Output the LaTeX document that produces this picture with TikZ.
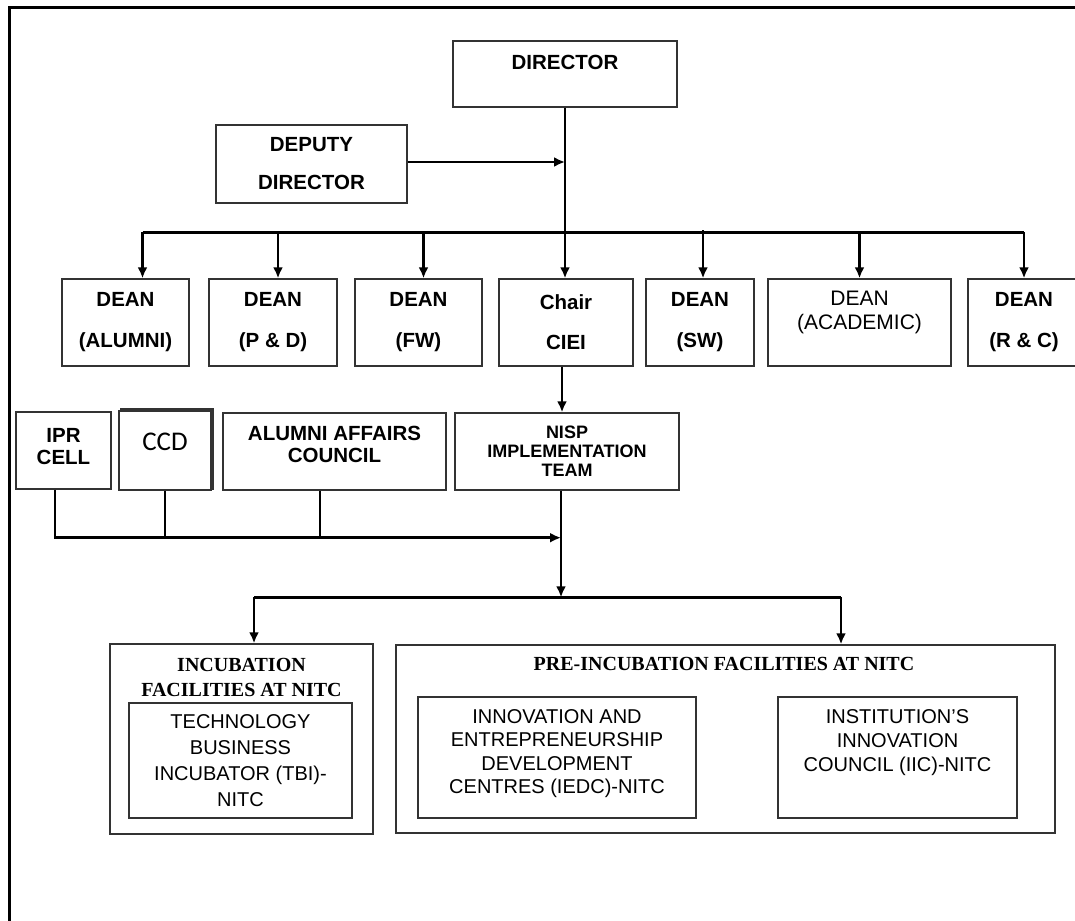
\documentclass[tikz,border=0pt]{standalone}
\usepackage{fontspec}
\setmainfont{Liberation Sans}
\newfontfamily\timesfont{Liberation Serif}
\newfontfamily\calibrifont{Carlito}
\usepackage{tikz}
\usetikzlibrary{arrows.meta}

\begin{document}
\begin{tikzpicture}[x=1pt,y=-1pt,
	box/.style={draw=black!80,line width=1.4pt,fill=white,align=center,inner sep=0pt},
	hd/.style={font=\bfseries\fontsize{20.5}{#1}\selectfont},
	rg/.style={font=\fontsize{20}{#1}\selectfont},
	ttl/.style={anchor=north,align=center,inner sep=0pt,font=\timesfont\bfseries\fontsize{20}{25}\selectfont},
	link/.style={line width=2.5pt},
	arr/.style={link,-{Latex[length=11pt,width=10pt]}}
	]
\useasboundingbox (0,0) rectangle (1075,920);
\clip (0,0) rectangle (1075,920);

\draw [line width=3pt] (9,930) to (9,8) to (1090,8);

\draw (565,74) node[box,hd=24,minimum width=224,minimum height=66] (director) {DIRECTOR\\\mbox{}};
\draw (311.5,164) node[box,hd=38,minimum width=191,minimum height=78] (deputy) {DEPUTY\\DIRECTOR};

% deans
\draw (125.5,322.5) node[box,hd=41,minimum width=127,minimum height=87] (alumni) {DEAN\\(ALUMNI)};
\draw (273,322.5) node[box,hd=41,minimum width=128,minimum height=87] (pd) {DEAN\\(P \& D)};
\draw (418.5,322.5) node[box,hd=41,minimum width=127,minimum height=87] (fw) {DEAN\\(FW)};
\draw (566,322.5) node[box,hd=40,minimum width=134,minimum height=87] (chair) {Chair\\CIEI};
\draw (700,322.5) node[box,hd=41,minimum width=108,minimum height=87] (sw) {DEAN\\(SW)};
\draw (859.5,322.5) node[box,font=\fontsize{21}{24}\selectfont,minimum width=183,minimum height=87] (academic) {DEAN\\(ACADEMIC)\\\mbox{}};
\draw (1024,322.5) node[box,hd=41,minimum width=112,minimum height=87] (rc) {DEAN\\(R \& C)};

% cells
\draw (63.5,450.5) node[box,hd=22,minimum width=95,minimum height=77] (ipr) {IPR\\CELL\\[-13pt]\mbox{}};
\draw [draw=black!80,line width=1.3pt] (121,409) rectangle (213,489);
\draw (165,450.5) node[box,font=\calibrifont\fontsize{27}{32}\selectfont,minimum width=92,minimum height=79] (ccd) {CCD\\[-15pt]\mbox{}};
\draw (334.5,451.5) node[box,hd=22,minimum width=223,minimum height=77] (aac) {ALUMNI AFFAIRS\\COUNCIL\\[-7pt]\mbox{}};
\draw (567,451.5) node[box,font=\bfseries\fontsize{18}{19}\selectfont,minimum width=224,minimum height=77] (nisp) {NISP\\IMPLEMENTATION\\TEAM};

% facilities
\draw (241.5,739) node[box,minimum width=263,minimum height=190] (incub) {};
\draw ([yshift=-15pt]incub.north) node[ttl] (incubttl) {INCUBATION\\FACILITIES AT NITC};
\draw (240.5,760.5) node[box,rg=26,minimum width=223,minimum height=115] (tbi) {TECHNOLOGY\\BUSINESS\\INCUBATOR (TBI)-\\NITC};

\draw (725.5,739) node[box,minimum width=659,minimum height=188] (pre) {};
\draw ([xshift=-1.5pt,yshift=-12.5pt]pre.north) node[ttl] (prettl) {PRE-INCUBATION FACILITIES AT NITC};
\draw (557,757.5) node[box,rg=23.5,minimum width=278,minimum height=121] (iedc) {INNOVATION AND\\ENTREPRENEURSHIP\\DEVELOPMENT\\CENTRES (IEDC)-NITC\\[-12pt]\mbox{}};
\draw (897.5,757.5) node[box,rg=24,minimum width=239,minimum height=121] (iic) {INSTITUTION’S\\INNOVATION\\COUNCIL (IIC)-NITC\\[9pt]\mbox{}};

% connectors
\coordinate (dd) at ([yshift=2pt]deputy.east);
\draw [arr] (dd) to (dd -| director.south);
\draw [arr] (director.south) to ([xshift=-1pt]chair.north);

\coordinate (busl) at ([xshift=17pt,yshift=46pt]alumni.north);
\draw [link] (busl) to (busl -| rc.north);
\draw [arr] (busl) to ([xshift=17pt]alumni.north);
\draw [arr] ([xshift=5pt,yshift=46pt]pd.north) to ([xshift=5pt]pd.north);
\draw [arr] ([xshift=5pt,yshift=46pt]fw.north) to ([xshift=5pt]fw.north);
\draw [arr] ([xshift=3pt,yshift=48pt]sw.north) to ([xshift=3pt]sw.north);
\draw [arr] ([yshift=46pt]academic.north) to (academic.north);
\draw [arr] ([yshift=46pt]rc.north) to (rc.north);

\draw [arr] ([xshift=-4pt]chair.south) to ([xshift=-5pt]nisp.north);

\coordinate (mrg) at ([xshift=-6pt,yshift=-47pt]nisp.south);
\draw [arr] ([xshift=-8.5pt]ipr.south) |- (mrg);
\draw [link] (ccd.south) to (ccd.south |- mrg);
\coordinate (aacs) at ([xshift=-14.5pt]aac.south);
\draw [link] (aacs) to (aacs |- mrg);

\coordinate (spl) at ([xshift=12.5pt,yshift=46pt]incub.north);
\coordinate (spr) at ([xshift=115.5pt,yshift=47pt]pre.north);
\coordinate (nisps) at ([xshift=-6pt]nisp.south);
\draw [arr] (nisps) to (nisps |- spl);
\draw [link] (spl) to (spr);
\draw [arr] (spl) to ([xshift=12.5pt]incub.north);
\draw [arr] (spr) to ([xshift=115.5pt]pre.north);

\end{tikzpicture}
\end{document}
